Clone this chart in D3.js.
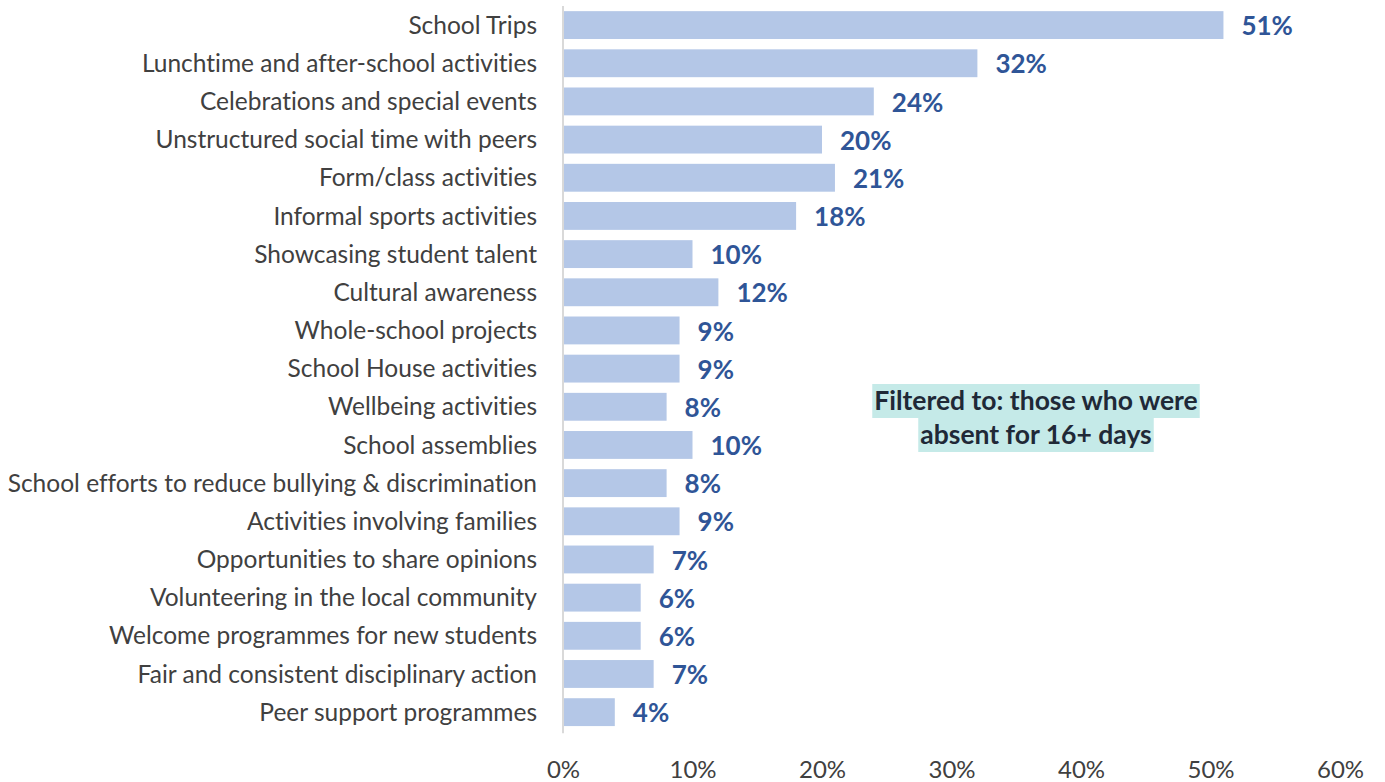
<!DOCTYPE html>
<html>
<head>
<meta charset="utf-8">
<script src="https://cdn.jsdelivr.net/npm/d3@7"></script>
<style>
  html, body { margin: 0; padding: 0; background: #fff; }
  svg { display: block; }
  text { font-variant-ligatures: none; font-kerning: normal; }
</style>
</head>
<body>
<svg id="chart" width="1385" height="782"></svg>
<script>
// Activities, top to bottom
const categories = [
  "School Trips",
  "Lunchtime and after-school activities",
  "Celebrations and special events",
  "Unstructured social time with peers",
  "Form/class activities",
  "Informal sports activities",
  "Showcasing student talent",
  "Cultural awareness",
  "Whole-school projects",
  "School House activities",
  "Wellbeing activities",
  "School assemblies",
  "School efforts to reduce bullying & discrimination",
  "Activities involving families",
  "Opportunities to share opinions",
  "Volunteering in the local community",
  "Welcome programmes for new students",
  "Fair and consistent disciplinary action",
  "Peer support programmes"
];
// Share of respondents (%)
const values = [51, 32, 24, 20, 21, 18, 10, 12, 9, 9, 8, 10, 8, 9, 7, 6, 6, 7, 4];
const tickValues = [0, 10, 20, 30, 40, 50, 60];
const noteLines = ["Filtered to: those who were", "absent for 16+ days"];

const svg = d3.select("#chart");
const margin = { left: 563, right: 45, top: 6 };
const W = 1385, H = 782;

const x = d3.scaleLinear().domain([0, 60]).range([margin.left, W - margin.right]);
const y = d3.scaleBand().domain(categories).range([margin.top, 6 + 38.17 * 19]).paddingInner(0.27).paddingOuter(0.135);

const font = "Lato, 'Open Sans', sans-serif";

// bars
svg.append("g").selectAll("rect").data(categories).join("rect")
  .attr("x", x(0))
  .attr("y", d => y(d))
  .attr("width", (d, i) => x(values[i]) - x(0))
  .attr("height", y.bandwidth())
  .attr("fill", "#b4c7e7");

// value axis line
svg.append("line")
  .attr("x1", x(0)).attr("x2", x(0))
  .attr("y1", margin.top).attr("y2", y.range()[1] + 2)
  .attr("stroke", "#d9d9d9").attr("stroke-width", 2);

// category labels
svg.append("g").selectAll("text").data(categories).join("text")
  .attr("x", x(0) - 26)
  .attr("y", d => y(d) + y.bandwidth() / 2)
  .attr("dy", "0.35em")
  .attr("text-anchor", "end")
  .attr("font-family", font)
  .attr("font-size", 24.5)
  .attr("fill", "#404040")
  .text(d => d);

// value labels
svg.append("g").selectAll("text").data(categories).join("text")
  .attr("x", (d, i) => x(values[i]) + 18)
  .attr("y", d => y(d) + y.bandwidth() / 2 + 1)
  .attr("dy", "0.35em")
  .attr("font-family", font)
  .attr("font-weight", "bold")
  .attr("font-size", 26)
  .attr("fill", "#2f5597")
  .text((d, i) => values[i] + "%");

// x axis tick labels
const axis = d3.axisBottom(x).tickValues(tickValues).tickSize(0).tickPadding(0).tickFormat(d => d + "%");
const ax = svg.append("g").attr("transform", `translate(0, 778)`).call(axis);
ax.select(".domain").remove();
ax.selectAll("text")
  .attr("dy", 0)
  .attr("font-family", font)
  .attr("font-size", 24)
  .attr("fill", "#404040");

// filter note
const note = svg.append("g");
const noteCx = 1036, noteTop = 384, lineH = 34;
noteLines.forEach((t, i) => {
  const txt = note.append("text")
    .attr("x", noteCx)
    .attr("y", noteTop + lineH * i + lineH / 2)
    .attr("dy", "0.35em")
    .attr("text-anchor", "middle")
    .attr("font-family", font)
    .attr("font-weight", "bold")
    .attr("font-size", 26.5)
    .attr("fill", "#1f2937")
    .text(t);
  const w = txt.node().getComputedTextLength();
  note.insert("rect", "text")
    .attr("x", noteCx - w / 2 - 2)
    .attr("y", noteTop + lineH * i)
    .attr("width", w + 4)
    .attr("height", lineH)
    .attr("fill", "#c5eae8");
});
</script>
</body>
</html>
